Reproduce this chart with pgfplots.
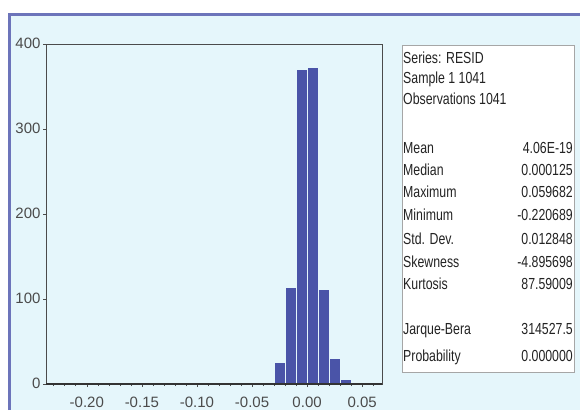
\documentclass[border=0pt]{standalone}
\usepackage{fontspec}
\setmainfont{Liberation Sans}
\newfontfamily\statfont{Liberation Sans}[FakeStretch=0.77]
\usepackage{pgfplots}
\pgfplotsset{compat=1.18}
\usepackage{pgfplotstable}

\definecolor{panelbg}{RGB}{229,246,251}
\definecolor{framecol}{RGB}{108,116,186}
\definecolor{barfill}{RGB}{74,84,168}
\definecolor{tickgray}{RGB}{75,75,75}
\definecolor{stattext}{RGB}{35,35,35}

% Histogram of RESID: left bin edge and count (bin width 0.01)
\pgfplotstableread{
edge   count
-0.23  1
-0.22  0
-0.21  0
-0.20  0
-0.19  0
-0.18  0
-0.17  0
-0.16  1
-0.15  0
-0.14  1
-0.13  0
-0.12  1
-0.11  1
-0.10  0
-0.09  1
-0.08  1
-0.07  1
-0.06  1
-0.05  1
-0.04  1
-0.03  25
-0.02  114
-0.01  370
0.00   373
0.01   111
0.02   30
0.03   5
0.04   1
0.05   1
0.06   0
}\residhist

\begin{document}
\begin{tikzpicture}[x=1pt,y=1pt]
\useasboundingbox (0,0) rectangle (580,410);
\fill[white] (0,0) rectangle (580,410);
\fill[panelbg] (9,0) rectangle (580,395.5);
\draw[framecol, line width=3pt] (9.5,0) -- (9.5,395) -- (580,395);

\begin{axis}[
  at={(46pt,26pt)}, anchor=south west,
  scale only axis, width=336pt, height=340pt,
  xmin=-0.237, xmax=0.068, ymin=0, ymax=400,
  axis line style={draw=tickgray, line width=0.6pt},
  tick align=outside, tick pos=left,
  major tick length=3pt, minor tick length=2pt,
  tick style={draw=tickgray, line width=0.5pt},
  xtick={-0.20,-0.15,-0.10,-0.05,0,0.05},
  xticklabels={-0.20,-0.15,-0.10,-0.05,0.00,0.05},
  minor xtick={-0.23,-0.22,...,0.06},
  ytick={0,100,200,300,400},
  yticklabels={0,100,200,300,400},
  tick label style={font=\fontsize{15}{15}\selectfont, text=tickgray},
  xticklabel style={yshift=-6pt},
  yticklabel style={xshift=1pt, yshift=1pt},
]
% bars separated by thin gaps of the panel colour
\addplot[ybar interval, fill=barfill, draw=panelbg, line width=1.1pt]
  table[x=edge, y=count] {\residhist};
\draw[black!80, line width=1.3pt] (axis cs:-0.237,0) -- (axis cs:0.068,0);
\end{axis}

% Descriptive statistics panel
\draw[white, fill=white] (402,38) rectangle (574,365);
\draw[gray!70, line width=0.4pt] (402,38) rectangle (574,365);
\begin{scope}[every node/.style={inner sep=0pt, text=stattext,
    font=\statfont\fontsize{16}{16}\selectfont}]
  \node[anchor=mid west] at (403,349) {Series: RESID};
  \node[anchor=mid west] at (403,329) {Sample 1 1041};
  \node[anchor=mid west] at (403,308) {Observations 1041};
  \node[anchor=mid west] at (403,259) {Mean};
  \node[anchor=mid west] at (403,237) {Median};
  \node[anchor=mid west] at (403,215) {Maximum};
  \node[anchor=mid west] at (403,192) {Minimum};
  \node[anchor=mid west] at (403,168) {Std. Dev.};
  \node[anchor=mid west] at (403,145) {Skewness};
  \node[anchor=mid west] at (403,123) {Kurtosis};
  \node[anchor=mid west] at (403,78)  {Jarque-Bera};
  \node[anchor=mid west] at (403,51)  {Probability};
  \node[anchor=mid east] at (573,259) {4.06E-19};
  \node[anchor=mid east] at (573,237) {0.000125};
  \node[anchor=mid east] at (573,215) {0.059682};
  \node[anchor=mid east] at (573,192) {-0.220689};
  \node[anchor=mid east] at (573,168) {0.012848};
  \node[anchor=mid east] at (573,145) {-4.895698};
  \node[anchor=mid east] at (573,123) {87.59009};
  \node[anchor=mid east] at (573,78)  {314527.5};
  \node[anchor=mid east] at (573,51)  {0.000000};
\end{scope}
\end{tikzpicture}
\end{document}
